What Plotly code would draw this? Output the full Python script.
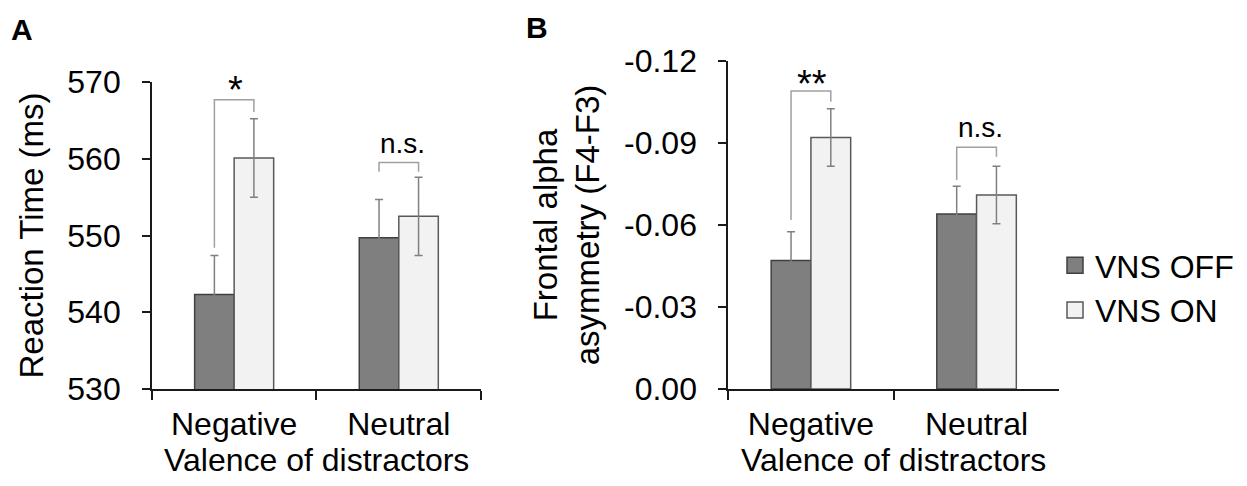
import plotly.graph_objects as go

# ---------------- data ----------------
categories = ["Negative", "Neutral"]
series_names = ["VNS OFF", "VNS ON"]

rt_off = [542.3, 549.7]
rt_off_err = [5.1, 5.0]
rt_on = [560.1, 552.5]
rt_on_err = [5.1, 5.1]

faa_off = [-0.047, -0.064]
faa_off_err = [0.0105, 0.0102]
faa_on = [-0.092, -0.071]
faa_on_err = [0.0105, 0.0105]

rt_ticks = [530, 540, 550, 560, 570]
faa_ticks = [0.0, -0.03, -0.06, -0.09, -0.12]
faa_ticktext = ["0.00", "-0.03", "-0.06", "-0.09", "-0.12"]

x_title = "Valence of distractors"

# significance brackets (top, left-leg bottom, right-leg bottom, label centre)
sig_labels_a = ["*", "n.s."]
br_top_a = [567.7, 559.5]
br_left_a = [548.4, 558.3]
br_right_a = [566.1, 558.3]
lab_y_a = [568.9, 562.0]

sig_labels_b = ["**", "n.s."]
br_top_b = [-0.109, -0.0884]
br_left_b = [-0.0618, -0.0765]
br_right_b = [-0.1051, -0.0850]
lab_y_b = [-0.1115, -0.0955]

# ---------------- style ----------------
FONT = "Liberation Sans, Arial, sans-serif"
C_OFF, C_ON = "#7f7f7f", "#f2f2f2"
E_OFF, E_ON = "#404040", "#595959"
ERR_C = "#808080"
BR_C = "#a0a0a0"
BARGAP = 0.52
PAGE_PAD = 8                      # default body margin of the html page
W, H = 1247 - 2 * PAGE_PAD, 486 - 2 * PAGE_PAD

def px_x(p):
    return (p - PAGE_PAD) / W

def px_y(p):
    return 1 - (p - PAGE_PAD) / H

fig = go.Figure()

def add_panel(xa, ya, off, off_err, on, on_err):
    fig.add_trace(go.Bar(x=categories, y=off, name=series_names[0], xaxis=xa, yaxis=ya,
                         marker=dict(color=C_OFF, line=dict(color=E_OFF, width=1.5)),
                         error_y=dict(type="data", array=off_err, color=ERR_C, thickness=1.5, width=4),
                         showlegend=False, offsetgroup="off"))
    fig.add_trace(go.Bar(x=categories, y=on, name=series_names[1], xaxis=xa, yaxis=ya,
                         marker=dict(color=C_ON, line=dict(color=E_ON, width=1.5)),
                         error_y=dict(type="data", array=on_err, color=ERR_C, thickness=1.5, width=4),
                         showlegend=False, offsetgroup="on"))

add_panel("x", "y", rt_off, rt_off_err, rt_on, rt_on_err)
add_panel("x2", "y2", faa_off, faa_off_err, faa_on, faa_on_err)

# legend entries
for nm, c, e in zip(series_names, [C_OFF, C_ON], [E_OFF, E_ON]):
    fig.add_trace(go.Scatter(x=[None], y=[None], mode="markers", name=nm,
                             marker=dict(symbol="square", size=16, color=c, line=dict(color=e, width=1.5)),
                             xaxis="x", yaxis="y", showlegend=True))

# brackets
half = (1 - BARGAP) / 4  # offset of bar centre from category centre
def add_brackets(xr, yr, tops, lefts, rights, labels, laby, sizes, shifts):
    for i in range(len(categories)):
        xl, xrr = i - half, i + half
        fig.add_shape(type="path", xref=xr, yref=yr,
                      path=f"M {xl} {lefts[i]} L {xl} {tops[i]} L {xrr} {tops[i]} L {xrr} {rights[i]}",
                      line=dict(color=BR_C, width=1.5))
        fig.add_annotation(x=i, y=laby[i], xref=xr, yref=yr, text=labels[i], showarrow=False,
                           yanchor="middle", xshift=shifts[i],
                           font=dict(family=FONT, size=sizes[i], color="#000"))

add_brackets("x", "y", br_top_a, br_left_a, br_right_a, sig_labels_a, lab_y_a, [38, 28], [1, 4])
add_brackets("x2", "y2", br_top_b, br_left_b, br_right_b, sig_labels_b, lab_y_b, [38, 28], [1, 4])

axis_common = dict(showline=True, linecolor="#1a1a1a", linewidth=1.5, ticks="outside",
                   tickcolor="#1a1a1a", tickwidth=1.5, showgrid=False, zeroline=False,
                   automargin=False)

xcommon = dict(axis_common, type="category", tickson="boundaries", ticklen=9,
               range=[-0.5, 1.5], ticklabelstandoff=6,
               tickfont=dict(family=FONT, size=32, color="#000"))

fig.update_layout(
    width=W, height=H,
    margin=dict(l=0, r=0, t=0, b=0),
    paper_bgcolor="white", plot_bgcolor="white",
    barmode="group", bargap=BARGAP, bargroupgap=0,
    showlegend=True,
    legend=dict(x=px_x(1064), y=px_y(288), xanchor="left", yanchor="middle",
                font=dict(family=FONT, size=32, color="#000"), bgcolor="rgba(0,0,0,0)",
                itemsizing="trace", tracegroupgap=0),
    xaxis=dict(xcommon, domain=[px_x(153), px_x(485)], anchor="y"),
    xaxis2=dict(xcommon, domain=[px_x(734), px_x(1068)], anchor="y2"),
    yaxis=dict(axis_common, domain=[px_y(389), px_y(82)], anchor="x", range=[530, 570],
               tickvals=rt_ticks, ticklen=8, ticklabelstandoff=15,
               tickfont=dict(family=FONT, size=32, color="#000"),
               title=dict(text="Reaction Time (ms)", font=dict(family=FONT, size=33, color="#000"), standoff=14)),
    yaxis2=dict(axis_common, domain=[px_y(389), px_y(61)], anchor="x2", range=[0, -0.12],
                tickvals=faa_ticks, ticktext=faa_ticktext, ticklen=8, ticklabelstandoff=15,
                tickfont=dict(family=FONT, size=32, color="#000"),
                title=dict(text="Frontal alpha<br>asymmetry (F4-F3)", font=dict(family=FONT, size=33, color="#000"), standoff=14)),
)

# x-axis titles (placed under each panel)
for xr in ["x domain", "x2 domain"]:
    fig.add_annotation(text=x_title, x=0.5, y=px_y(460), xref=xr, yref="paper",
                       showarrow=False, xanchor="center", yanchor="middle",
                       font=dict(family=FONT, size=32, color="#000"))

# panel letters
for txt, xp, yp in [("A", 22, 29), ("B", 541, 28)]:
    fig.add_annotation(text=f"<b>{txt}</b>", x=px_x(xp), y=px_y(yp), xref="paper", yref="paper",
                       showarrow=False, xanchor="center", yanchor="middle",
                       font=dict(family=FONT, size=30, color="#000"))

fig.write_html("out.html")
